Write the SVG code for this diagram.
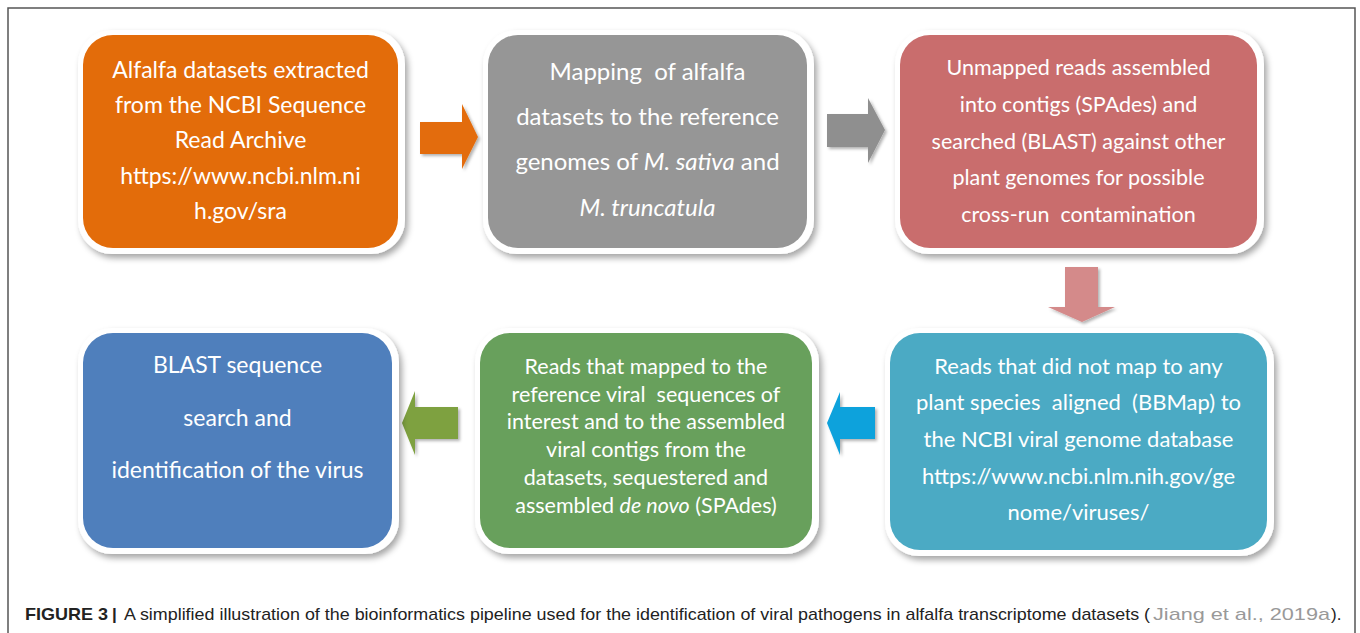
<svg xmlns="http://www.w3.org/2000/svg" width="1360" height="633" viewBox="0 0 1360 633">
<defs>
<filter id="sh" x="-10%" y="-10%" width="125%" height="130%">
<feDropShadow dx="3" dy="4" stdDeviation="3" flood-color="#000" flood-opacity="0.35"/>
</filter>
<filter id="ash" x="-20%" y="-20%" width="150%" height="150%">
<feDropShadow dx="2" dy="2" stdDeviation="1.5" flood-color="#000" flood-opacity="0.3"/>
</filter>
</defs>
<style>
.frame{fill:#fff;stroke:#555;stroke-width:1.5}
.halo{fill:#fff;filter:url(#sh)}
.t{font-family:Lato,"Open Sans","Noto Sans",sans-serif;font-size:22px;fill:#fff;text-anchor:middle}
.i{font-style:italic}
.cap{font-family:"Liberation Sans",Arial,sans-serif;font-size:17px;fill:#222}
</style>
<rect class="frame" x="8" y="8" width="1347" height="640"/>

<g id="connectors">
<polygon filter="url(#ash)" fill="#E36C0A" points="420,122 462,122 462,104 478,137 462,169 462,154 420,154"/>
<polygon filter="url(#ash)" fill="#8F8F8F" points="827,114 868,114 868,98 885,130 868,163 868,147 827,147"/>
<polygon filter="url(#ash)" fill="#D48A8A" points="1065,267 1098,267 1098,307 1115,307 1082,322 1048,307 1065,307"/>
<polygon filter="url(#ash)" fill="#0EA2DC" points="875,407 840,407 840,392 827,423 840,455 840,439 875,439"/>
<polygon filter="url(#ash)" fill="#7EA13F" points="458,407 415,407 415,391 402,423 415,455 415,439 458,439"/>
</g>

<g id="node1">
<rect class="halo" x="78" y="30" width="327" height="224" rx="34"/>
<rect x="83" y="35" width="315" height="213" rx="30" fill="#E36C0A"/>
<text class="t" style="font-size:23px" x="240.5" y="78">Alfalfa datasets extracted</text>
<text class="t" style="font-size:23px" x="240.5" y="113">from the NCBI Sequence</text>
<text class="t" style="font-size:23px" x="240.5" y="148">Read Archive</text>
<text class="t" style="font-size:23px" x="240.5" y="184">https://www.ncbi.nlm.ni</text>
<text class="t" style="font-size:23px" x="240.5" y="219">h.gov/sra</text>
</g>

<g id="node2">
<rect class="halo" x="483" y="30" width="331" height="224" rx="34"/>
<rect x="488" y="35" width="319" height="213" rx="30" fill="#969696"/>
<text class="t" style="font-size:24px" xml:space="preserve" x="647.5" y="80">Mapping  of alfalfa</text>
<text class="t" style="font-size:24px" x="647.5" y="125">datasets to the reference</text>
<text class="t" style="font-size:24px" xml:space="preserve" x="647.5" y="170">genomes of <tspan class="i">M. sativa</tspan> and</text>
<text class="t" style="font-size:24px" x="647.5" y="216"><tspan class="i">M. truncatula</tspan></text>
</g>

<g id="node3">
<rect class="halo" x="895" y="30" width="369" height="224" rx="34"/>
<rect x="900" y="35" width="357" height="213" rx="30" fill="#C96D6D"/>
<text class="t" style="font-size:21.5px" x="1078.5" y="75">Unmapped reads assembled</text>
<text class="t" style="font-size:21.5px" x="1078.5" y="112">into contigs (SPAdes) and</text>
<text class="t" style="font-size:21.5px" x="1078.5" y="149">searched (BLAST) against other</text>
<text class="t" style="font-size:21.5px" x="1078.5" y="185">plant genomes for possible</text>
<text class="t" style="font-size:21.5px" xml:space="preserve" x="1078.5" y="222">cross-run  contamination</text>
</g>

<g id="node4">
<rect class="halo" x="78" y="328" width="321" height="226" rx="34"/>
<rect x="83" y="333" width="309" height="215" rx="30" fill="#4F7FBC"/>
<text class="t" style="font-size:23px" x="237.5" y="373">BLAST sequence</text>
<text class="t" style="font-size:23px" x="237.5" y="426">search and</text>
<text class="t" style="font-size:23px" x="237.5" y="478">identification of the virus</text>
</g>

<g id="node5">
<rect class="halo" x="475" y="328" width="344" height="226" rx="34"/>
<rect x="480" y="333" width="332" height="215" rx="30" fill="#68A05C"/>
<text class="t" style="font-size:21.5px" x="646" y="374">Reads that mapped to the</text>
<text class="t" style="font-size:21.5px" xml:space="preserve" x="646" y="402">reference viral  sequences of</text>
<text class="t" style="font-size:21.5px" x="646" y="429">interest and to the assembled</text>
<text class="t" style="font-size:21.5px" x="646" y="457">viral contigs from the</text>
<text class="t" style="font-size:21.5px" x="646" y="485">datasets, sequestered and</text>
<text class="t" style="font-size:21.5px" xml:space="preserve" x="646" y="513">assembled <tspan class="i">de novo</tspan> (SPAdes)</text>
</g>

<g id="node6">
<rect class="halo" x="885" y="328" width="389" height="228" rx="34"/>
<rect x="890" y="333" width="377" height="217" rx="30" fill="#4BAAC4"/>
<text class="t" x="1078.5" y="374">Reads that did not map to any</text>
<text class="t" xml:space="preserve" x="1078.5" y="410">plant species  aligned  (BBMap) to</text>
<text class="t" x="1078.5" y="447">the NCBI viral genome database</text>
<text class="t" x="1078.5" y="484">https://www.ncbi.nlm.nih.gov/ge</text>
<text class="t" x="1078.5" y="520">nome/viruses/</text>
</g>

<text class="cap" x="25" y="620" font-weight="bold" textLength="83" lengthAdjust="spacingAndGlyphs">FIGURE 3</text>
<text class="cap" x="112" y="620" font-weight="bold">|</text>
<text class="cap" x="124" y="620" textLength="1026" lengthAdjust="spacingAndGlyphs">A simplified illustration of the bioinformatics pipeline used for the identification of viral pathogens in alfalfa transcriptome datasets (</text>
<text class="cap" x="1153" y="620" style="fill:#999" textLength="177" lengthAdjust="spacingAndGlyphs">Jiang et al., 2019a</text>
<text class="cap" x="1331" y="620">).</text>
</svg>
